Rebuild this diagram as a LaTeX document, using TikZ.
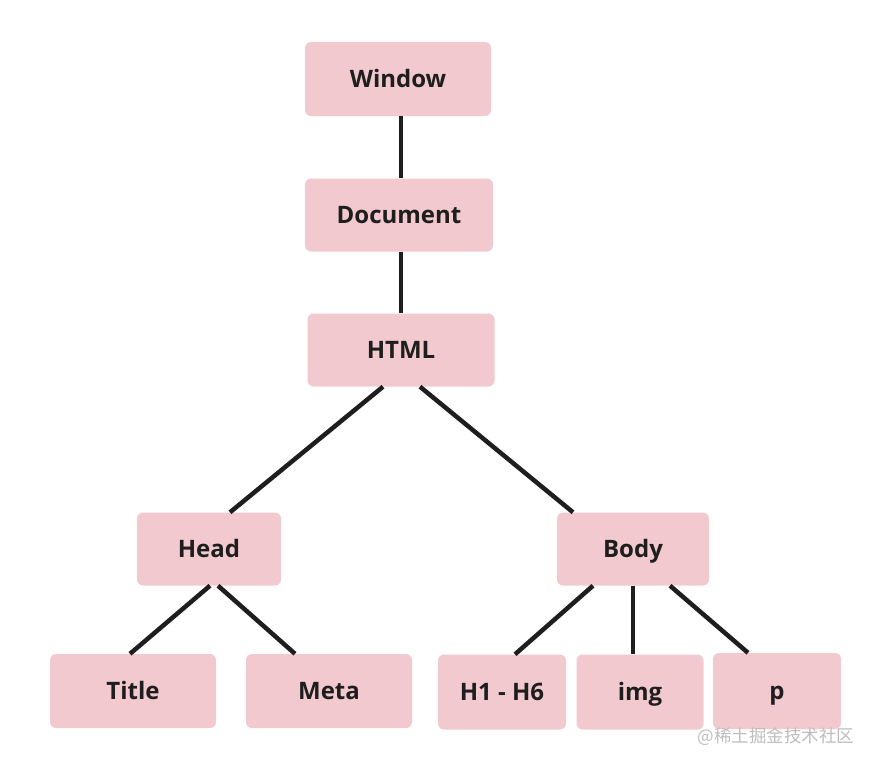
\documentclass[tikz,border=0pt]{standalone}
\usepackage{fontspec}
\setmainfont{Open Sans}
\newfontfamily\cjk{Noto Sans CJK SC}
\definecolor{boxpink}{HTML}{F2C9CF}
\definecolor{inkdark}{HTML}{1E1E1E}
\definecolor{wmgray}{HTML}{BDBDBD}
\begin{document}
\begin{tikzpicture}[x=1pt,y=-1pt,
  treebox/.style={fill=boxpink, draw=none, rounded corners=6pt, inner sep=0pt,
    font=\fontsize{24}{28}\selectfont\bfseries, text=inkdark,
    text height=17.5pt, text depth=0pt},
  link/.style={draw=inkdark, line width=4.5pt}]
\useasboundingbox (0,0) rectangle (880,768);
\node[treebox, minimum width=186pt, minimum height=74pt] (win) at (398,79) {Window};
\node[treebox, minimum width=188pt, minimum height=73pt] (doc) at (399,215) {Document};
\node[treebox, minimum width=187pt, minimum height=73pt] (html) at (401,350) {HTML};
\node[treebox, minimum width=144pt, minimum height=73pt] (head) at (209,549) {Head};
\node[treebox, minimum width=152pt, minimum height=73pt] (body) at (633,549) {Body};
\node[treebox, minimum width=166pt, minimum height=74pt] (title) at (133,691) {Title};
\node[treebox, minimum width=166pt, minimum height=74pt] (meta) at (329,691) {Meta};
\node[treebox, minimum width=128pt, minimum height=75pt] (h1) at (502,692) {H1 - H6};
\node[treebox, minimum width=127pt, minimum height=75pt] (img) at (640,692) {img};
\node[treebox, minimum width=128pt, minimum height=76pt] (p) at (777,691) {p};
\draw[link] (win.south -| 401,0) -- (doc.north -| 401,0);
\draw[link] (doc.south -| 401,0) -- (html.north -| 401,0);
\draw[link] (html.south -| 383,0) -- (head.north -| 230,0);
\draw[link] (html.south -| 420,0) -- (body.north -| 573,0);
\draw[link] (head.south -| 210,0) -- (title.north -| 130,0);
\draw[link] (head.south -| 218,0) -- (meta.north -| 295,0);
\draw[link] (body.south -| 593,0) -- (h1.north -| 515,0);
\draw[link] (body.south -| 633,0) -- (img.north -| 633,0);
\draw[link] (body.south -| 670,0) -- (p.north -| 748,0);
\node[text=wmgray, font=\cjk\fontsize{17.5}{20}\selectfont, anchor=east] (wm) at (858,737) {@稀土掘金技术社区};
\end{tikzpicture}
\end{document}
